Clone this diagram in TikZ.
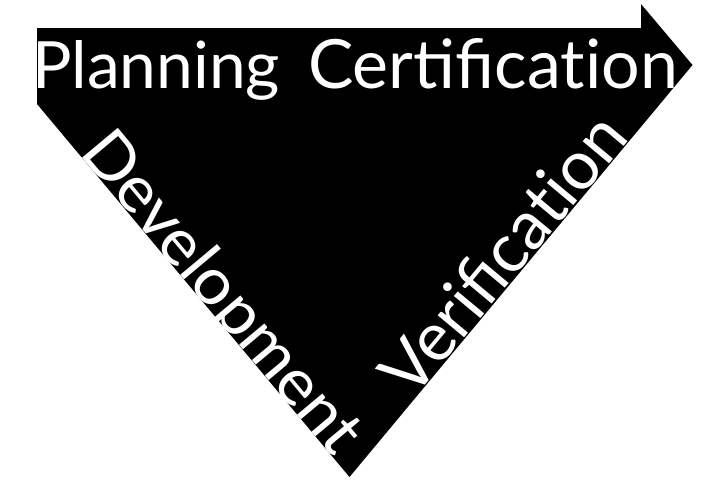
\documentclass[tikz,border=0pt]{standalone}
\usepackage{fontspec}
\setmainfont{Lato}
\usepackage{graphicx}
\begin{document}
\begin{tikzpicture}[x=1pt,y=-1pt,
  lbl/.style={text=white, inner sep=0pt, outer sep=0pt, anchor=base west,
              font=\fontsize{66}{70}\selectfont}]
\useasboundingbox (0,0) rectangle (713,499);
% the black arrow-triangle
\fill[black] (37,28) -- (641,28) -- (641,4) -- (692.5,65) -- (349.5,477) -- (37,104) -- cycle;
% labels
\node[lbl] (plan) at (32,88) {\resizebox{248pt}{48pt}{Planning}};
\node[lbl] (cert) at (308,88) {\resizebox{370pt}{50pt}{Certifica\mbox{t}ion}};
\node[lbl, rotate=-50.1] (dev) at (78.5,153) {\resizebox{398pt}{48pt}{Development}};
\node[lbl, rotate=50.2] (ver) at (412,400.5) {\resizebox{341pt}{50pt}{Verifica\mbox{t}ion}};
\end{tikzpicture}
\end{document}
